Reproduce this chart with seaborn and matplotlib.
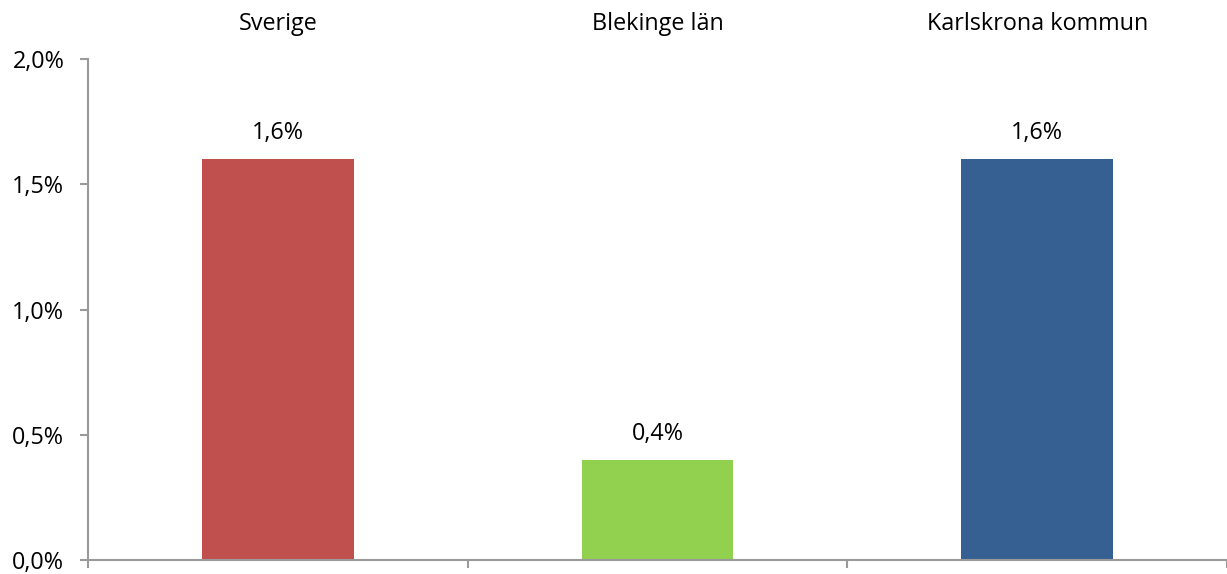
import numpy as np
import pandas as pd
import matplotlib
matplotlib.use("Agg")
import matplotlib.pyplot as plt
import seaborn as sns

categories = ["Sverige", "Blekinge län", "Karlskrona kommun"]
values = [1.6, 0.4, 1.6]
value_labels = ["1,6%", "0,4%", "1,6%"]
bar_colors = ["#C0504D", "#92D050", "#376092"]
y_ticks = [0.0, 0.5, 1.0, 1.5, 2.0]
y_tick_labels = ["0,0%", "0,5%", "1,0%", "1,5%", "2,0%"]

df = pd.DataFrame({"region": categories, "share": values})

sns.set_theme(style="white")
plt.rcParams["font.family"] = ["Open Sans", "DejaVu Sans"]
plt.rcParams["text.color"] = "black"
plt.rcParams["xtick.color"] = "black"
plt.rcParams["ytick.color"] = "black"
axis_grey = "#9A9A9A"
fs = 16.8

fig = plt.figure(figsize=(12.27, 5.74), dpi=100)
ax = fig.add_axes([0.0717, 0.0244, 0.9283, 0.8726])

sns.barplot(data=df, x="region", y="share", hue="region",
            palette=bar_colors, width=0.4, legend=False, saturation=1,
            linewidth=0, ax=ax)

ax.set_xlim(-0.5, 2.5)
ax.set_ylim(0, 2.0)
ax.set_yticks(y_ticks)
ax.set_yticklabels(y_tick_labels, fontsize=fs, color="black")
ax.set_xlabel("")
ax.set_ylabel("")

# category names on top, boundary ticks at bottom
ax.set_xticks(range(len(categories)))
ax.set_xticklabels(categories, fontsize=fs, color="black")
ax.set_xticks([-0.5, 0.5, 1.5, 2.5], minor=True)
ax.tick_params(axis="x", which="major", bottom=False, top=False,
               labelbottom=False, labeltop=True, length=0, pad=17)
ax.tick_params(axis="x", which="minor", bottom=True, direction="out",
               length=6, width=1.5, color=axis_grey)
ax.tick_params(axis="y", left=True, direction="out", length=6,
               width=1.5, color=axis_grey, pad=11)

for side in ["top", "right"]:
    ax.spines[side].set_visible(False)
for side in ["left", "bottom"]:
    ax.spines[side].set_color(axis_grey)
    ax.spines[side].set_linewidth(1.5)

for container, lab in zip(ax.containers, value_labels):
    ax.bar_label(container, labels=[lab], padding=10, fontsize=fs, color="black")

fig.savefig("out.png", dpi=100)
